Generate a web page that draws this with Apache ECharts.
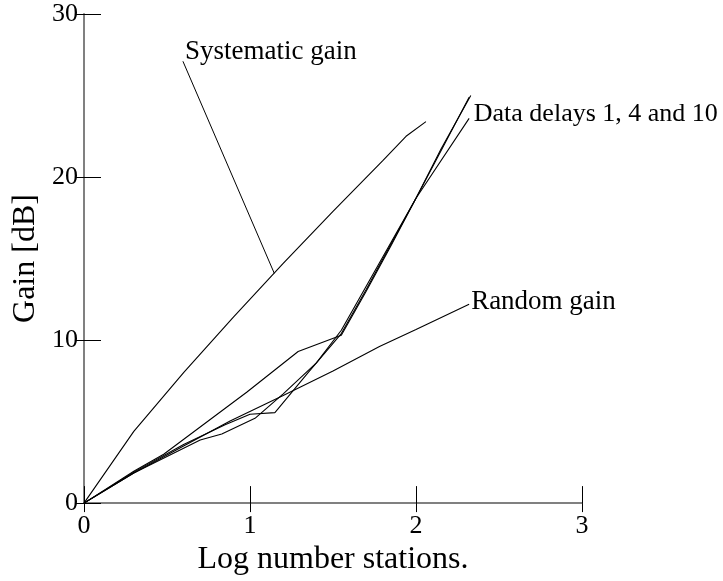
<!DOCTYPE html>
<html>
<head>
<meta charset="utf-8">
<script src="https://cdn.jsdelivr.net/npm/echarts@6/dist/echarts.min.js"></script>
<style>html,body{margin:0;padding:0;background:#fff}#chart{width:723px;height:581px}</style>
</head>
<body>
<div id="chart"></div>
<script>
// ---- data ----
const xTicks = [0, 1, 2, 3];
const yTicks = [0, 10, 20, 30];
const xTitle = 'Log number stations.';
const yTitle = 'Gain [dB]';

const systematicGain = [[0,0],[0.3,4.4],[0.6,8.0],[0.9,11.4],[1.2,14.7],[1.5,17.9],[1.8,21.0],[1.94,22.5],[2.06,23.4]];
const randomGain = [[0,0],[0.3,1.85],[0.6,3.5],[0.88,5.04],[1.2,6.6],[1.5,8.1],[1.78,9.6],[2.0,10.65],[2.32,12.2]];
const delay1 = [[0,0],[0.3,1.95],[0.48,3.0],[0.98,6.8],[1.29,9.3],[1.55,10.3],[1.7,13.0],[1.85,15.8],[2.0,18.7],[2.15,21.7],[2.33,25.0]];
const delay4 = [[0,0],[0.3,1.9],[0.6,3.6],[0.85,4.8],[1.0,5.45],[1.15,5.55],[1.35,8.0],[1.55,10.4],[1.7,13.1],[1.85,15.9],[2.0,18.7],[2.15,21.6],[2.32,24.9]];
const delay10 = [[0,0],[0.3,1.85],[0.7,3.87],[0.83,4.24],[1.03,5.2],[1.2,6.7],[1.4,8.6],[1.55,10.6],[1.7,13.3],[1.85,16.0],[2.0,18.7],[2.32,23.6]];
const systematicLeader = [[1.146,14.1],[0.596,27.1]];

const labelSystematic = 'Systematic gain';
const labelDelays = 'Data delays 1, 4 and 10';
const labelRandom = 'Random gain';

// ---- chart ----
const FONT = 'Liberation Serif';
const chart = echarts.init(document.getElementById('chart'), null, {renderer: 'canvas'});

function withEndLabel(arr, text, offset, dist, size) {
  return arr.map((p, i) => i === arr.length - 1 ? {
    value: p,
    label: {show: true, position: 'right', distance: dist, offset: offset, formatter: text,
            fontFamily: FONT, fontSize: size, color: '#000'}
  } : {value: p});
}
function lineSeries(data, w) {
  return {
    type: 'line', data: data, xAxisIndex: 0, yAxisIndex: 0,
    showSymbol: true, symbol: 'circle', symbolSize: 0.01,
    itemStyle: {color: '#000'},
    lineStyle: {color: '#000', width: w},
    label: {show: false}, silent: true, animation: false, z: 3
  };
}

const baseAxisLabel = {fontFamily: FONT, fontSize: 26, color: '#000'};

chart.setOption({
  animation: false,
  backgroundColor: '#fff',
  grid: {left: 84, top: 14, width: 498, height: 498, containLabel: false},
  xAxis: [{
    type: 'value', min: xTicks[0], max: xTicks[xTicks.length-1], interval: 1,
    position: 'bottom',
    axisLine: {show: true, lineStyle: {color: '#808080', width: 2}},
    axisTick: {show: true, inside: true, length: 17, lineStyle: {color: '#000', width: 1}},
    axisLabel: Object.assign({margin: 10}, baseAxisLabel),
    splitLine: {show: false},
    name: xTitle, nameLocation: 'middle', nameGap: 21,
    nameTextStyle: {fontFamily: FONT, fontSize: 32, color: '#000'}
  }, {
    type: 'value', min: xTicks[0], max: xTicks[xTicks.length-1], interval: 1,
    position: 'bottom',
    axisLine: {show: false},
    axisTick: {show: true, inside: false, length: 9, lineStyle: {color: '#000', width: 1}},
    axisLabel: {show: false}, splitLine: {show: false}
  }],
  yAxis: [{
    type: 'value', min: yTicks[0], max: yTicks[yTicks.length-1], interval: 10,
    position: 'left',
    axisLine: {show: true, lineStyle: {color: '#808080', width: 2}},
    axisTick: {show: true, inside: true, length: 17, lineStyle: {color: '#000', width: 1}},
    axisLabel: Object.assign({margin: 6}, baseAxisLabel),
    splitLine: {show: false},
    name: yTitle, nameLocation: 'middle', nameGap: 38,
    nameTextStyle: {fontFamily: FONT, fontSize: 32, color: '#000'}
  }, {
    type: 'value', min: yTicks[0], max: yTicks[yTicks.length-1], interval: 10,
    position: 'left',
    axisLine: {show: false},
    axisTick: {show: true, inside: false, length: 9, lineStyle: {color: '#000', width: 1}},
    axisLabel: {show: false}, splitLine: {show: false}
  }],
  series: [
    lineSeries(systematicGain, 1.1),
    lineSeries(withEndLabel(randomGain, labelRandom, [0, -2], 2, 27), 1.1),
    lineSeries(withEndLabel(delay1, labelDelays, [0, 19], 3, 26), 1.1),
    lineSeries(delay4, 1.1),
    lineSeries(delay10, 1.1),
    lineSeries(withEndLabel(systematicLeader, labelSystematic, [0, -9], 2, 27), 1)
  ]
});
</script>
</body>
</html>
